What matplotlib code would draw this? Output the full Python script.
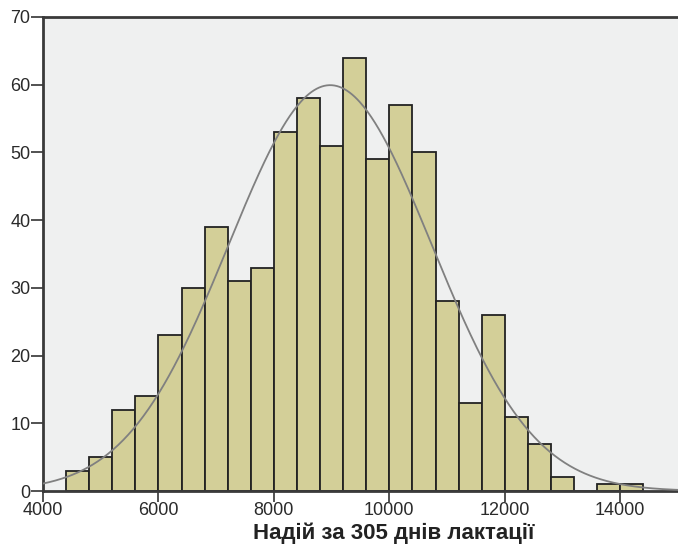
import numpy as np
import matplotlib.pyplot as plt

plt.rcParams['font.family'] = ['Liberation Sans', 'DejaVu Sans']

# межі інтервалів (крок 400) і частоти
bin_edges = np.arange(4400, 14401, 400)
counts = [3, 5, 12, 14, 23, 30, 39, 31, 33, 53, 58, 51, 64, 49, 57, 50,
          28, 13, 26, 11, 7, 2, 0, 1, 1]
x_ticks = [4000, 6000, 8000, 10000, 12000, 14000]
y_ticks = [0, 10, 20, 30, 40, 50, 60, 70]
xlabel = 'Надій за 305 днів лактації'

# параметри нормальної кривої
mean_yield = 8975
sd_yield = 1760

fig = plt.figure(figsize=(6.78, 5.46), dpi=100)
ax = fig.add_axes([0.0634, 0.1007, 0.9366, 0.8682])
ax.set_facecolor('#eff0f0')

lefts = bin_edges[:-1]
width = bin_edges[1] - bin_edges[0]
ax.bar(lefts, counts, width=width, align='edge', color='#d3cf98',
       edgecolor='#222222', linewidth=1.3, zorder=2)

# нормальна крива, масштабована на кількість спостережень
n = sum(counts)
xs = np.linspace(4000, 15000, 500)
ys = n * width / (sd_yield * np.sqrt(2 * np.pi)) * np.exp(-(xs - mean_yield) ** 2 / (2 * sd_yield ** 2))
ax.plot(xs, ys, color='#808080', linewidth=1.3, zorder=3)

ax.set_xlim(4000, 15000)
ax.set_ylim(0, 70)
ax.set_xticks(x_ticks)
ax.set_yticks(y_ticks)
ax.tick_params(axis='both', direction='out', length=9, width=1.2,
               color='#333333', labelsize=13, labelcolor='#2a2a2a')
ax.tick_params(axis='x', length=8, pad=0)
ax.tick_params(axis='y', pad=0)
for side in ['left', 'bottom', 'top']:
    ax.spines[side].set_color('#3a3a3a')
    ax.spines[side].set_linewidth(2)
ax.spines['right'].set_visible(False)

# підпис осі X окремим текстом під мітками
fig.text(0.581, 0.013, xlabel, fontsize=16, fontweight='bold',
         color='#222222', ha='center', va='baseline')

fig.savefig('out.png', dpi=100)
